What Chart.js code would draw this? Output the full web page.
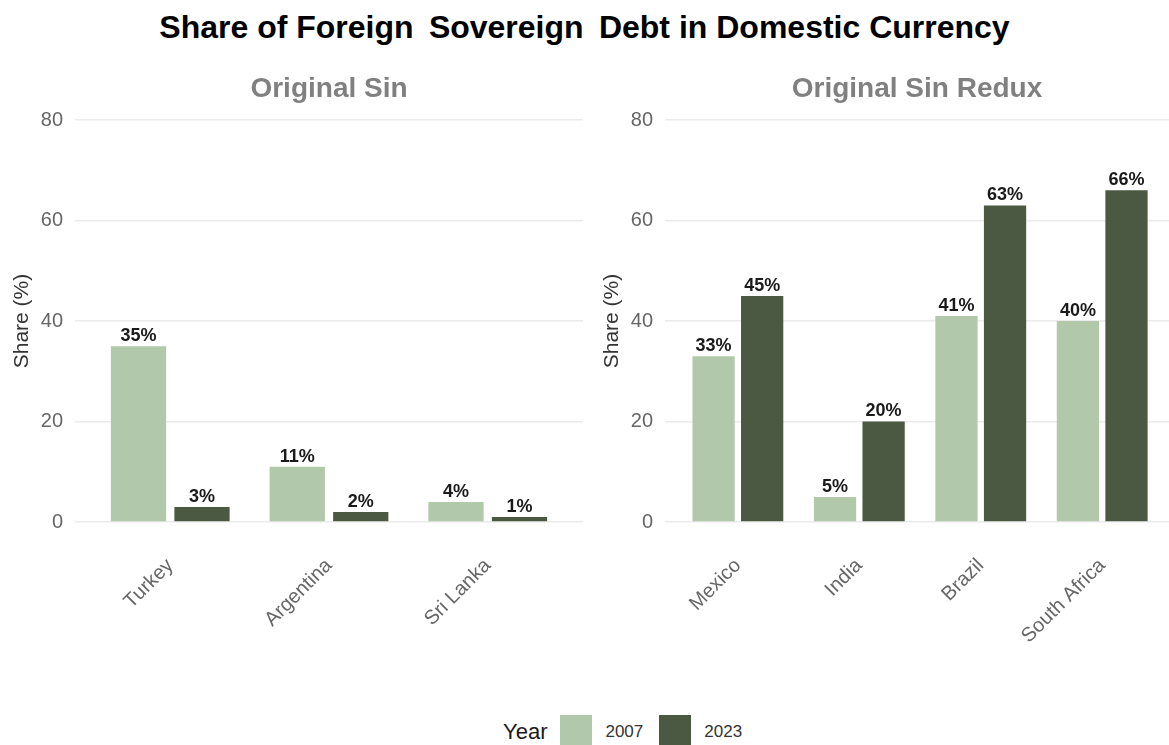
<!DOCTYPE html>
<html>
<head>
<meta charset="utf-8">
<script src="https://cdn.jsdelivr.net/npm/chart.js@4.4.1/dist/chart.umd.min.js"></script>
<style>
  html, body { margin: 0; padding: 0; width: 1169px; height: 745px; overflow: hidden; background: #ffffff;
    font-family: "Liberation Sans", Arial, sans-serif; }
  #title { position: absolute; left: 0; top: 11px; width: 1169px; text-align: center; font-weight: bold;
    font-size: 32px; line-height: 32px; color: #000; white-space: pre; }
  .panel { position: absolute; top: 60px; height: 640px; }
  #leftPanel { left: 0; width: 590px; }
  #rightPanel { left: 590px; width: 579px; }
  #legend { position: absolute; top: 715px; left: 503px; display: flex; align-items: flex-start; color: #1a1a1a; }
  #legend .ttl { font-size: 22px; line-height: 34px; margin-right: 13px; }
  #legend .box { width: 32px; height: 34px; margin-right: 13px; }
  #legend .lbl { font-size: 17px; line-height: 34px; margin-right: 16px; color: #333; }
</style>
</head>
<body>
<div id="title">Share of Foreign &#8201;Sovereign &#8201;Debt in Domestic Currency</div>
<div class="panel" id="leftPanel"><canvas id="leftChart"></canvas></div>
<div class="panel" id="rightPanel"><canvas id="rightChart"></canvas></div>
<div id="legend"></div>

<script>
// Series and categories
const years = ['2007', '2023'];
const yearColors = ['#b2c8ab', '#4b5943'];

const sinCountries = ['Turkey', 'Argentina', 'Sri Lanka'];
const sin2007 = [35, 11, 4];
const sin2023 = [3, 2, 1];

const reduxCountries = ['Mexico', 'India', 'Brazil', 'South Africa'];
const redux2007 = [33, 5, 41, 40];
const redux2023 = [45, 20, 63, 66];

const yTicks = [0, 20, 40, 60, 80];

const FONT = '"Liberation Sans", Arial, sans-serif';

// Writes "NN%" above each bar
const valueLabels = {
  id: 'valueLabels',
  afterDatasetsDraw(chart) {
    const ctx = chart.ctx;
    ctx.save();
    ctx.font = 'bold 18px ' + FONT;
    ctx.fillStyle = '#1a1a1a';
    ctx.textAlign = 'center';
    ctx.textBaseline = 'bottom';
    chart.data.datasets.forEach((ds, di) => {
      chart.getDatasetMeta(di).data.forEach((bar, i) => {
        ctx.fillText(ds.data[i].y + '%', bar.x, bar.y - 1);
      });
    });
    ctx.restore();
  }
};

// Facet heading centred over the plotting area
const panelHeading = {
  id: 'panelHeading',
  afterDraw(chart, args, opts) {
    const ctx = chart.ctx;
    const area = chart.chartArea;
    ctx.save();
    ctx.font = 'bold 28px ' + FONT;
    ctx.fillStyle = '#808080';
    ctx.textAlign = 'center';
    ctx.textBaseline = 'middle';
    ctx.fillText(opts.text, (area.left + area.right) / 2, 29);
    ctx.restore();
  }
};

function makePanel(canvasId, panelTitle, categories, first, second, xMax, rightPad) {
  const toPoints = arr => arr.map((v, i) => ({ x: i + 1, y: v }));
  return new Chart(document.getElementById(canvasId), {
    type: 'bar',
    data: {
      datasets: [
        { label: years[0], data: toPoints(first), backgroundColor: yearColors[0] },
        { label: years[1], data: toPoints(second), backgroundColor: yearColors[1] }
      ]
    },
    options: {
      responsive: true,
      maintainAspectRatio: false,
      animation: false,
      layout: { padding: { left: 0, right: rightPad, top: 60, bottom: 0 } },
      datasets: { bar: { categoryPercentage: 0.8, barPercentage: 0.87, borderWidth: 0 } },
      plugins: {
        legend: { display: false },
        tooltip: { enabled: false },
        title: { display: false },
        panelHeading: { text: panelTitle }
      },
      scales: {
        x: {
          type: 'linear',
          min: 0.4,
          max: xMax,
          offset: false,
          grid: { display: false, drawTicks: false, offset: false },
          border: { display: false },
          afterBuildTicks: scale => { scale.ticks = categories.map((_, i) => ({ value: i + 1 })); },
          afterFit: scale => { scale.height = 178; },
          ticks: {
            autoSkip: false,
            minRotation: 45,
            maxRotation: 45,
            padding: 32,
            color: '#666666',
            font: { family: FONT, size: 20 },
            callback: v => categories[Math.round(v) - 1]
          }
        },
        y: {
          min: 0,
          max: 80,
          afterBuildTicks: scale => { scale.ticks = yTicks.map(v => ({ value: v })); },
          afterFit: scale => { scale.width = 75; },
          grid: { color: '#ebebeb', lineWidth: 1.5, drawTicks: false },
          border: { display: false },
          ticks: { padding: 12, color: '#666666', font: { family: FONT, size: 20 } },
          title: {
            display: true,
            text: 'Share (%)',
            color: '#333333',
            font: { family: FONT, size: 21 },
            padding: { top: 10, bottom: 0 }
          }
        }
      }
    },
    plugins: [valueLabels, panelHeading]
  });
}

makePanel('leftChart', 'Original Sin', sinCountries, sin2007, sin2023, 3.6, 7);
makePanel('rightChart', 'Original Sin Redux', reduxCountries, redux2007, redux2023, 4.55, 0);

// Legend
const legend = document.getElementById('legend');
const t = document.createElement('span');
t.className = 'ttl';
t.textContent = 'Year';
legend.appendChild(t);
years.forEach((y, i) => {
  const b = document.createElement('span');
  b.className = 'box';
  b.style.background = yearColors[i];
  legend.appendChild(b);
  const l = document.createElement('span');
  l.className = 'lbl';
  l.textContent = y;
  legend.appendChild(l);
});
</script>
</body>
</html>
